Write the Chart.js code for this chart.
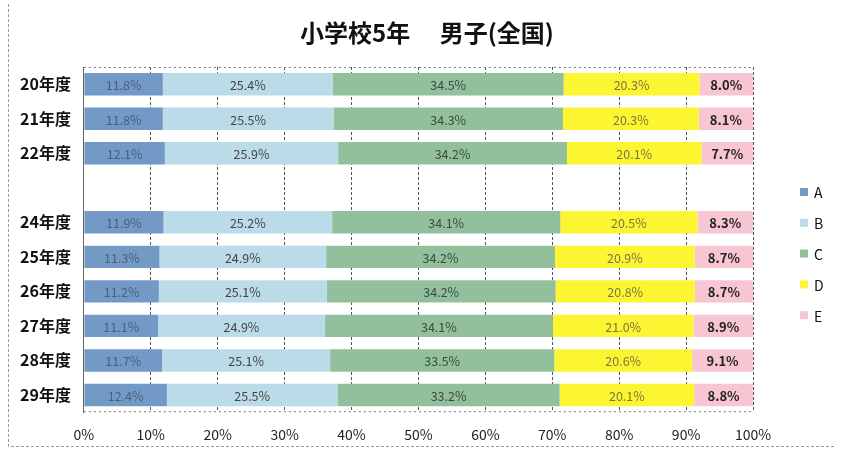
<!DOCTYPE html>
<html>
<head>
<meta charset="utf-8">
<script src="https://cdn.jsdelivr.net/npm/chart.js@4"></script>
<style>
  html, body { margin: 0; padding: 0; background: #fff; }
  #wrap { width: 842px; height: 454px; }
</style>
</head>
<body>
<div id="wrap"><canvas id="c" width="842" height="454"></canvas></div>
<script>
(function () {
  "use strict";

  // ── Data ──
  var categories = ["20年度", "21年度", "22年度", "", "24年度", "25年度", "26年度", "27年度", "28年度", "29年度"];
  var seriesNames = ["A", "B", "C", "D", "E"];
  var valuesA = [11.8, 11.8, 12.1, null, 11.9, 11.3, 11.2, 11.1, 11.7, 12.4];
  var valuesB = [25.4, 25.5, 25.9, null, 25.2, 24.9, 25.1, 24.9, 25.1, 25.5];
  var valuesC = [34.5, 34.3, 34.2, null, 34.1, 34.2, 34.2, 34.1, 33.5, 33.2];
  var valuesD = [20.3, 20.3, 20.1, null, 20.5, 20.9, 20.8, 21.0, 20.6, 20.1];
  var valuesE = [8.0, 8.1, 7.7, null, 8.3, 8.7, 8.7, 8.9, 9.1, 8.8];
  var xTicks = [0, 10, 20, 30, 40, 50, 60, 70, 80, 90, 100];
  var TITLE = "小学校5年　 男子(全国)";

  var COLORS = ["#7399c6", "#bcdbe8", "#93c09c", "#fbf631", "#f7c6d2"];
  var LABEL_COLORS = ["#4a5f7a", "#444", "#3d4a40", "#7a7640", "#222"];
  var FONT = "'Noto Sans CJK JP', 'Noto Sans', sans-serif";

  var series = [valuesA, valuesB, valuesC, valuesD, valuesE];
  var datasets = series.map(function (vals, i) {
    return {
      label: seriesNames[i],
      data: vals,
      backgroundColor: COLORS[i],
      borderWidth: 0,
      barPercentage: 0.65,
      categoryPercentage: 1.0
    };
  });

  // ── Labels inside each segment ──
  var segLabels = {
    id: "segLabels",
    afterDatasetsDraw: function (chart) {
      var ctx = chart.ctx;
      ctx.save();
      ctx.textAlign = "center";
      ctx.textBaseline = "middle";
      chart.data.datasets.forEach(function (ds, di) {
        var meta = chart.getDatasetMeta(di);
        meta.data.forEach(function (el, i) {
          var v = ds.data[i];
          if (v == null) return;
          ctx.fillStyle = LABEL_COLORS[di];
          ctx.font = (di === 4 ? "bold 13px " : "12.5px ") + FONT;
          ctx.fillText(v.toFixed(1) + "%", (el.x + el.base) / 2, el.y + 1);
        });
      });
      ctx.restore();
    }
  };

  // ── Title + legend, drawn by hand so the plot keeps its width ──
  var sideLegend = {
    id: "sideLegend",
    afterDraw: function (chart) {
      var ctx = chart.ctx;
      ctx.save();
      ctx.textBaseline = "middle";
      ctx.textAlign = "center";
      ctx.fillStyle = "#111";
      ctx.font = "bold 24px " + FONT;
      ctx.fillText(TITLE, 427, 33);
      ctx.textAlign = "left";
      ctx.font = "14px " + FONT;
      chart.data.datasets.forEach(function (ds, i) {
        var y = 192 + i * 30.8;
        ctx.fillStyle = ds.backgroundColor;
        ctx.fillRect(800, y - 4, 8, 8);
        ctx.fillStyle = "#111";
        ctx.fillText(ds.label, 814, y + 1);
      });
      ctx.restore();
    }
  };

  // ── Dashed plot frame + outer border ──
  var frame = {
    id: "frame",
    beforeDatasetsDraw: function (chart) {
      var a = chart.chartArea, ctx = chart.ctx;
      ctx.save();
      ctx.strokeStyle = "#777";
      ctx.lineWidth = 1;
      ctx.setLineDash([2, 3]);
      ctx.beginPath();
      ctx.moveTo(a.left, a.top + 0.5); ctx.lineTo(a.right, a.top + 0.5);
      ctx.moveTo(a.left, a.bottom - 0.5); ctx.lineTo(a.right, a.bottom - 0.5);
      ctx.stroke();
      ctx.restore();
    },
    afterDraw: function (chart) {
      var ctx = chart.ctx;
      ctx.save();
      ctx.strokeStyle = "#999";
      ctx.setLineDash([3, 2]);
      ctx.beginPath();
      ctx.moveTo(8.5, 4); ctx.lineTo(8.5, 446.5); ctx.lineTo(836, 446.5);
      ctx.stroke();
      ctx.restore();
    }
  };

  new Chart(document.getElementById("c"), {
    type: "bar",
    data: { labels: categories, datasets: datasets },
    plugins: [frame, segLabels, sideLegend],
    options: {
      indexAxis: "y",
      responsive: false,
      animation: false,
      layout: { padding: { left: 7, right: 89, top: 67, bottom: -3 } },
      plugins: {
        title: { display: false },
        legend: { display: false },
        tooltip: { enabled: false }
      },
      scales: {
        x: {
          stacked: true,
          min: 0,
          max: 100,
          afterBuildTicks: function (axis) {
            axis.ticks = xTicks.map(function (v) { return { value: v }; });
          },
          ticks: {
            color: "#222",
            font: { family: FONT, size: 14 },
            padding: 14,
            callback: function (v) { return v + "%"; }
          },
          grid: { color: "#555", drawTicks: false },
          border: { display: false, dash: [3, 2] }
        },
        y: {
          stacked: true,
          ticks: {
            color: "#111",
            font: { family: FONT, size: 16, weight: "bold" },
            padding: 13
          },
          grid: { display: false, drawTicks: false },
          border: { display: true, color: "#666", width: 1 }
        }
      }
    }
  });
})();
</script>
</body>
</html>
